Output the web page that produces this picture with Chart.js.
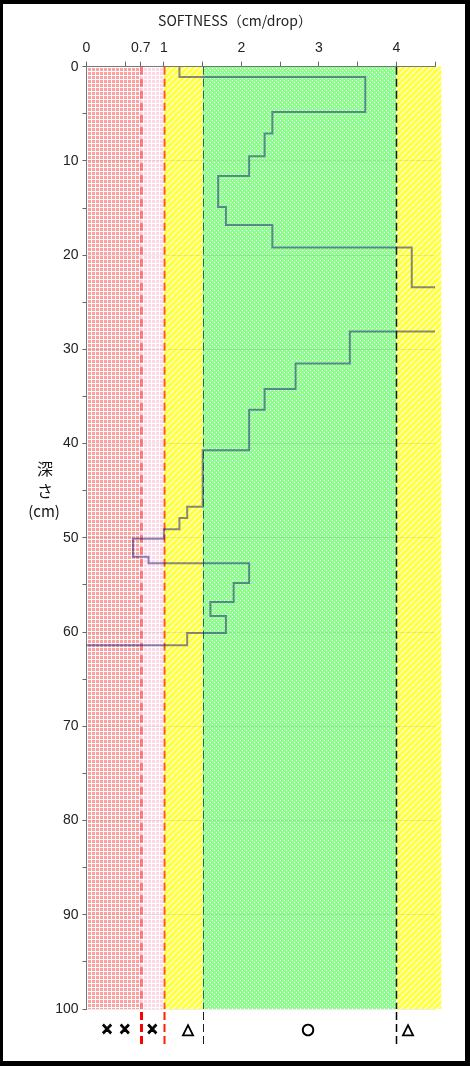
<!DOCTYPE html>
<html>
<head>
<meta charset="utf-8">
<script src="https://cdn.jsdelivr.net/npm/chart.js@4.4.0/dist/chart.umd.min.js"></script>
<style>
  body { margin: 0; background: #fff; }
  #wrap { width: 470px; height: 1066px; }
</style>
</head>
<body>
<div id="wrap"><canvas id="softCanvas"></canvas></div>
<script>
// Limites des couches (cm) et dureté mesurée dans chaque couche
var depthEdges = [0, 1.1, 4.8, 7.1, 9.5, 11.6, 14.9, 16.8, 19.2, 23.4, 28.1, 31.5, 34.2, 36.4, 40.7,
                  46.7, 47.9, 49.1, 50.1, 52.0, 52.7, 54.8, 56.8, 58.3, 60.1, 61.4];
var softness = [1.2, 3.6, 2.4, 2.3, 2.1, 1.7, 1.8, 2.4, 4.2, 5.0, 3.4, 2.7, 2.3, 2.1, 1.5,
                1.3, 1.2, 1.0, 0.6, 0.8, 2.1, 1.9, 1.6, 1.8, 1.3];
var endSoftness = 0;

// Zones de jugement
var bandEdges = [0, 0.7, 1, 1.5, 4, 4.58];
var bandMarks = ["× ×", "×", "△", "○", "△"];
var thresholds = [0.7, 1, 1.5, 4];

// Graduations
var xTickVals = [0, 0.5, 0.7, 1, 1.5, 2, 2.5, 3, 3.5, 4, 4.5];
var xLabelled = [0, 0.7, 1, 2, 3, 4];
var yTickVals = [0, 5, 10, 15, 20, 25, 30, 35, 40, 45, 50, 55, 60, 65, 70, 75, 80, 85, 90, 95, 100];

// mise en page (pas des données)
var markAt = [0.38, 0.85, 1.31, 2.86, 4.15];
var thresholdStyle = [
  { rgb: "255,0,0", width: 3, inner: 0.45 },
  { rgb: "255,30,0", width: 2, inner: 0.75 },
  { rgb: "30,30,30", width: 1, inner: 0.7 },
  { rgb: "0,0,0", width: 1.5, inner: 0.9 }
];

// Profil en escalier
var profile = [];
for (var i = 0; i < softness.length; i++) {
  profile.push({ x: softness[i], y: depthEdges[i] });
  profile.push({ x: softness[i], y: depthEdges[i + 1] });
}
profile.push({ x: endSoftness, y: depthEdges[depthEdges.length - 1] });

function makePattern(ctx, kind) {
  var c = document.createElement("canvas");
  var g = c.getContext("2d");
  if (kind == "red" || kind == "pink") {
    c.width = 4; c.height = 4;
    g.fillStyle = "#fff"; g.fillRect(0, 0, 4, 4);
    g.fillStyle = kind == "red" ? "#ffa0a0" : "#ffd8e6";
    g.fillRect(0, 0, 3, 3);
  } else if (kind == "yellow") {
    c.width = 6; c.height = 6;
    g.fillStyle = "#ffff3a"; g.fillRect(0, 0, 6, 6);
    g.strokeStyle = "rgba(255,255,255,0.8)"; g.lineWidth = 1.3;
    g.beginPath();
    g.moveTo(0, 6); g.lineTo(6, 0);
    g.moveTo(-1, 1); g.lineTo(1, -1);
    g.moveTo(5, 7); g.lineTo(7, 5);
    g.stroke();
  } else {
    c.width = 4; c.height = 4;
    g.fillStyle = "#8efc8e"; g.fillRect(0, 0, 4, 4);
    g.fillStyle = "#fff";
    g.fillRect(0, 0, 1, 1); g.fillRect(2, 2, 1, 1);
  }
  return ctx.createPattern(c, "repeat");
}

var bandKinds = ["red", "pink", "yellow", "green", "yellow"];

var zonesPlugin = {
  id: "zones",
  beforeDraw: function(chart) {
    var ctx = chart.ctx, a = chart.chartArea, xs = chart.scales.x;
    ctx.save();
    for (var i = 0; i < bandKinds.length; i++) {
      var x0 = xs.getPixelForValue(bandEdges[i]);
      var x1 = xs.getPixelForValue(bandEdges[i + 1]);
      ctx.fillStyle = makePattern(ctx, bandKinds[i]);
      ctx.fillRect(x0, a.top, x1 - x0, a.bottom - a.top);
    }
    ctx.restore();
  },
  beforeDatasetsDraw: function(chart) {
    var ctx = chart.ctx, a = chart.chartArea, xs = chart.scales.x;
    ctx.save();
    ctx.setLineDash([8, 4]);
    for (var i = 0; i < thresholds.length; i++) {
      var s = thresholdStyle[i];
      var x = Math.round(xs.getPixelForValue(thresholds[i])) + 0.5;
      ctx.strokeStyle = "rgba(" + s.rgb + "," + s.inner + ")";
      ctx.lineWidth = s.width;
      ctx.beginPath(); ctx.moveTo(x, a.top); ctx.lineTo(x, a.bottom); ctx.stroke();
    }
    ctx.restore();
  },
  afterDraw: function(chart) {
    var ctx = chart.ctx, a = chart.chartArea, xs = chart.scales.x;
    ctx.save();
    // prolongement des seuils sous le graphe
    ctx.setLineDash([8, 4]);
    for (var i = 0; i < thresholds.length; i++) {
      var s = thresholdStyle[i];
      var x = Math.round(xs.getPixelForValue(thresholds[i])) + 0.5;
      ctx.strokeStyle = "rgb(" + s.rgb + ")";
      ctx.lineWidth = s.width;
      ctx.beginPath(); ctx.moveTo(x, a.bottom + 3); ctx.lineTo(x, a.bottom + 37); ctx.stroke();
    }
    ctx.setLineDash([]);
    // symboles de jugement
    ctx.fillStyle = "#000";
    ctx.strokeStyle = "#000";
    ctx.lineWidth = 1;
    ctx.font = "bold 15px 'DejaVu Sans'";
    ctx.textAlign = "center";
    ctx.textBaseline = "middle";
    for (var j = 0; j < bandMarks.length; j++) {
      var mx = xs.getPixelForValue(markAt[j]);
      ctx.fillText(bandMarks[j], mx, a.bottom + 21);
      ctx.strokeText(bandMarks[j], mx, a.bottom + 21);
    }
    // titre de l'axe X (centré sur la page)
    ctx.font = "14px 'Noto Sans CJK JP'";
    ctx.fillStyle = "#222";
    ctx.fillText("SOFTNESS（cm/drop）", 235, 21);
    // titre vertical de l'axe Y
    ctx.font = "16px 'Noto Sans CJK JP'";
    ctx.fillStyle = "#111";
    ctx.fillText("深", 45, 469);
    ctx.fillText("さ", 45, 491);
    ctx.font = "15px 'Noto Sans CJK JP'";
    ctx.fillText("(cm)", 44, 511);
    // cadre
    ctx.fillStyle = "#000";
    ctx.fillRect(0, 0, 470, 4);
    ctx.fillRect(0, 0, 3, 1066);
    ctx.fillRect(465, 0, 5, 1066);
    ctx.fillRect(0, 1061, 470, 5);
    ctx.restore();
  }
};

var dataGraph = {
  type: "scatter",
  data: {
    datasets: [
      {
        label: "SOFTNESS",
        data: profile,
        showLine: true,
        borderColor: "rgba(20, 20, 120, 0.5)",
        borderWidth: 2,
        pointRadius: 0,
        fill: false,
        tension: 0,
      }
    ]
  },
  options: {
    responsive: true,
    maintainAspectRatio: false,
    animation: false,
    layout: {
      padding: { left: 4, right: 35, top: 4, bottom: 57 }
    },
    scales: {
      x: {
        type: "linear",
        position: "top",
        min: 0,
        max: 4.5,
        afterBuildTicks: function(axis) {
          axis.ticks = xTickVals.map(function(v) { return { value: v }; });
        },
        afterFit: function(scale) { scale.height = 62.7; },
        ticks: {
          autoSkip: false,
          maxRotation: 0,
          padding: 5,
          color: "#222",
          font: { family: "Liberation Sans", size: 14 },
          callback: function(v) { return xLabelled.indexOf(v) >= 0 ? String(v) : ""; }
        },
        grid: { drawOnChartArea: false, tickLength: 5, tickColor: "#666" },
        border: { color: "#777" }
      },
      y: {
        type: "linear",
        reverse: true,
        min: 0,
        max: 100,
        afterBuildTicks: function(axis) {
          axis.ticks = yTickVals.map(function(v) { return { value: v }; });
        },
        afterFit: function(scale) { scale.width = 82.5; },
        ticks: {
          autoSkip: false,
          padding: 4,
          color: "#222",
          font: { family: "Liberation Sans", size: 14 },
          callback: function(v) { return v % 10 === 0 ? String(v) : ""; }
        },
        grid: {
          tickLength: 4,
          tickColor: "#666",
          color: function(c) {
            return c.tick && c.tick.value % 10 === 0 ? "rgba(0,0,0,0.07)" : "rgba(0,0,0,0)";
          }
        },
        border: { color: "#777" }
      }
    },
    plugins: {
      legend: { display: false },
      tooltip: { enabled: false },
      title: { display: false }
    }
  },
  plugins: [zonesPlugin]
};

var myChart = new Chart(document.getElementById("softCanvas"), dataGraph);
</script>
</body>
</html>
